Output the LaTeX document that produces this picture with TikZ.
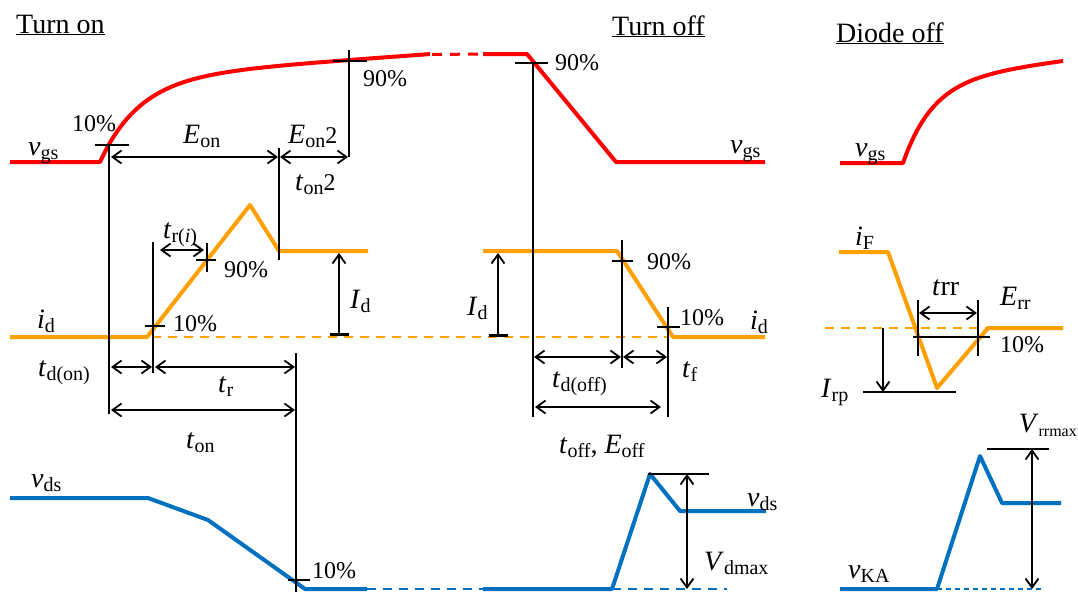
\documentclass[tikz,border=0pt]{standalone}
\usepackage{fontspec}
\setmainfont{Liberation Serif}
\usetikzlibrary{arrows.meta}
\definecolor{wred}{HTML}{FF0000}
\definecolor{worange}{HTML}{FFA000}
\definecolor{wblue}{HTML}{0070C0}
\newcommand\lab[2]{\textit{#1}\raisebox{-4.5pt}{\fontsize{20}{20}\selectfont #2}}
\newcommand\labs[2]{\textit{#1}\raisebox{-4.5pt}{\fontsize{16}{16}\selectfont #2}}
\newcommand\labb[2]{\textit{#1}\raisebox{-4.5pt}{\fontsize{20}{20}\selectfont #2}{\fontsize{24}{26}\selectfont 2}}
\begin{document}
\begin{tikzpicture}[x=1pt,y=-1pt,
  wave/.style={line width=4pt,line join=round},
  dashwave/.style={line width=2.5pt,dash pattern=on 9pt off 7pt},
  tickline/.style={black,line width=1.3pt},
  dimarrow/.style={black,line width=1.8pt,{Straight Barb[length=9pt,width=13pt]}-{Straight Barb[length=9pt,width=13pt]}},
  onearrow/.style={black,line width=1.8pt,-{Straight Barb[length=9pt,width=13pt]}},
  bararrow/.style={black,line width=1.8pt,{Bar[width=19pt,line width=3pt]}-{Straight Barb[length=9pt,width=13pt]}},
  lbl/.style={inner sep=0pt,anchor=base west,font=\fontsize{28}{30}\selectfont},
  pct/.style={inner sep=0pt,anchor=base west,font=\fontsize{24}{26}\selectfont},
  ttl/.style={inner sep=0pt,anchor=base west,font=\fontsize{28}{30}\selectfont}]
\useasboundingbox[fill=white] (0,0) rectangle (1078,592);

% ---------------- titles
\node[ttl] (t1) at (16,33) {\underline{Turn on}};
\node[ttl] (t2) at (612,35) {\underline{Turn off}};
\node[ttl] (t3) at (836,42) {\underline{Diode off}};

% ---------------- waveforms: turn on
\draw[wave,wred] (10,162) -- (100,162) -- plot[domain=0:330,samples=70,smooth] ({100+\x},{162-(84.2*(1-exp(-\x/40))+0.072*\x)});
\draw[wred,line width=3pt,dash pattern=on 10pt off 8pt] (432,54.5) -- (483,54);
\draw[wave,wred] (483,54) -- (527,54) -- (616,162) -- (765,162);

\draw[worange,dashwave] (152,337) -- (667,337);
\draw[wave,worange] (10,337) -- (147,337) -- (250,205) -- (279,251) -- (368,251);
\draw[wave,worange] (483,251) -- (617,251) -- (673,337) -- (765,337);

\draw[wblue,dashwave] (367,589) -- (483,589);
\draw[wblue,dashwave] (612,589) -- (727,589);
\draw[wave,wblue] (10,498) -- (148,498) -- (208,520) -- (305,589) -- (367,589);
\draw[wave,wblue] (483,589) -- (612,589) -- (650,474) -- (680,511) -- (766,511);

% ---------------- waveforms: diode
\draw[wave,wred] (840,163) -- (903,163) -- plot[domain=0:160,samples=50,smooth] ({903+\x},{163-(82.1*(1-exp(-\x/30))+0.127*\x)});
\draw[worange,dashwave] (825,328) -- (988,328);
\draw[wave,worange] (839,252) -- (888,252) -- (937,388) -- (988,328) -- (1063,328);
\draw[wblue,line width=1.3pt,dash pattern=on 5pt off 4pt] (937,589) -- (1043,589);
\draw[wave,wblue] (840,589) -- (937,589) -- (980,456) -- (1002,503) -- (1061,503);

% ---------------- thin lines and ticks
\draw[tickline] (109,145) -- (109,414);
\draw[tickline] (95,145) -- (129,145);
\draw[tickline] (279,148) -- (279,260);
\draw[tickline] (349,50) -- (349,157);
\draw[tickline] (333,61) -- (367,61);
\draw[tickline] (153,242) -- (153,373);
\draw[tickline] (145,326) -- (165,326);
\draw[tickline] (196,260) -- (216,260);
\draw[tickline] (207,243) -- (207,272);
\draw[tickline] (296,353) -- (296,592);
\draw[tickline] (288,580) -- (310,580);
\draw[tickline] (533,63) -- (533,417);
\draw[tickline] (515,63) -- (548,63);
\draw[tickline] (622,240) -- (622,368);
\draw[tickline] (612,261) -- (633,261);
\draw[tickline] (668,307) -- (668,417);
\draw[tickline] (657,327) -- (680,327);
\draw[tickline] (648,474) -- (709,474);
\draw[tickline] (918,300) -- (918,356);
\draw[tickline] (978,300) -- (978,356);
\draw[tickline] (913,337) -- (990,337);
\draw[tickline] (863,392) -- (956,392);
\draw[tickline] (987,449) -- (1049,449);

% ---------------- dimension arrows
\coordinate (eonL) at (111,157);   \coordinate (eonR) at (278,157);
\coordinate (eon2L) at (280,157);  \coordinate (eon2R) at (348,157);
\coordinate (triL) at (160,250);   \coordinate (triR) at (204,250);
\coordinate (tdonL) at (111,367);  \coordinate (tdonR) at (152,367);
\coordinate (trL) at (155,367);    \coordinate (trR) at (295,367);
\coordinate (tonL) at (111,410);   \coordinate (tonR) at (295,410);
\coordinate (idonB) at (339,336);  \coordinate (idonT) at (339,253);
\coordinate (idofB) at (498,337);  \coordinate (idofT) at (498,253);
\coordinate (tdofL) at (534,357);  \coordinate (tdofR) at (621,357);
\coordinate (tfL) at (623,357);    \coordinate (tfR) at (667,357);
\coordinate (toffL) at (535,407);  \coordinate (toffR) at (661,407);
\coordinate (trrL) at (919,313);   \coordinate (trrR) at (977,313);
\coordinate (irpT) at (883,328);   \coordinate (irpB) at (891,392);
\coordinate (vdT) at (687,474);    \coordinate (vdB) at (687,589);
\coordinate (vrT) at (1032,449);   \coordinate (vrB) at (1032,589);
\draw[dimarrow] (eonL) -- (eonR);
\draw[dimarrow] (eon2L) -- (eon2R);
\draw[dimarrow] (triL) -- (triR);
\draw[dimarrow] (tdonL) -- (tdonR);
\draw[dimarrow] (trL) -- (trR);
\draw[dimarrow] (tonL) -- (tonR);
\draw[bararrow] (idonB) -- (idonT);
\draw[bararrow] (idofB) -- (idofT);
\draw[dimarrow] (tdofL) -- (tdofR);
\draw[dimarrow] (tfL) -- (tfR);
\draw[dimarrow] (toffL) -- (toffR);
\draw[dimarrow] (trrL) -- (trrR);
\draw[onearrow] (irpT) -- (irpT |- irpB);
\draw[dimarrow] (vdT) -- (vdB);
\draw[dimarrow] (vrT) -- (vrB);

% ---------------- labels: turn on
\node[lbl] (vgs1) at (28,155) {\lab{v}{gs}};
\node[pct] (p10a) at (72,131) {10\%};
\node[lbl] (eon) at (183,143) {\lab{E}{on}};
\node[lbl] (eon2) at (288,143) {\labb{E}{on}};
\node[lbl] (ton2) at (295,190) {\labb{t}{on}};
\node[pct] (p90a) at (363,86) {90\%};
\node[lbl] (tri) at (163,238) {\lab{t}{r(\textit{i})}};
\node[pct] (p90b) at (224,277) {90\%};
\node[pct] (p10b) at (173,331) {10\%};
\node[lbl] (id1) at (37,328) {\lab{i}{d}};
\node[lbl] (Id1) at (350,308) {\lab{I}{d}};
\node[lbl] (tdon) at (38,376) {\lab{t}{d(on)}};
\node[lbl] (tr) at (218,392) {\lab{t}{r}};
\node[lbl] (ton) at (186,448) {\lab{t}{on}};
\node[lbl] (vds1) at (31,487) {\lab{v}{ds}};
\node[pct] (p10c) at (312,578) {10\%};

% ---------------- labels: turn off
\node[pct] (p90c) at (555,70) {90\%};
\node[lbl] (vgs2) at (730,153) {\lab{v}{gs}};
\node[lbl] (Id2) at (467,315) {\lab{I}{d}};
\node[pct] (p90d) at (647,269) {90\%};
\node[pct] (p10d) at (680,325) {10\%};
\node[lbl] (id2) at (750,329) {\lab{i}{d}};
\node[lbl] (tdoff) at (552,387) {\lab{t}{d(off)}};
\node[lbl] (tf) at (682,377) {\lab{t}{f}};
\node[lbl] (toff) at (559,453) {\lab{t}{off}, \lab{E}{off}};
\node[lbl] (vds2) at (747,506) {\lab{v}{ds}};
\node[lbl] (vdmax) at (704,570) {\lab{V}{dmax}};

% ---------------- labels: diode off
\node[lbl] (vgs3) at (855,156) {\lab{v}{gs}};
\node[lbl] (iF) at (855,245) {\lab{i}{F}};
\node[lbl] (trr) at (932,295) {\textit{t}rr};
\node[lbl] (Err) at (1000,305) {\lab{E}{rr}};
\node[pct] (p10e) at (1000,352) {10\%};
\node[lbl] (Irp) at (821,397) {\lab{I}{rp}};
\node[lbl,anchor=base east] (Vrr) at (1077,432) {\labs{V}{rrmax}};
\node[lbl] (vKA) at (848,578) {\lab{v}{KA}};
\end{tikzpicture}
\end{document}
